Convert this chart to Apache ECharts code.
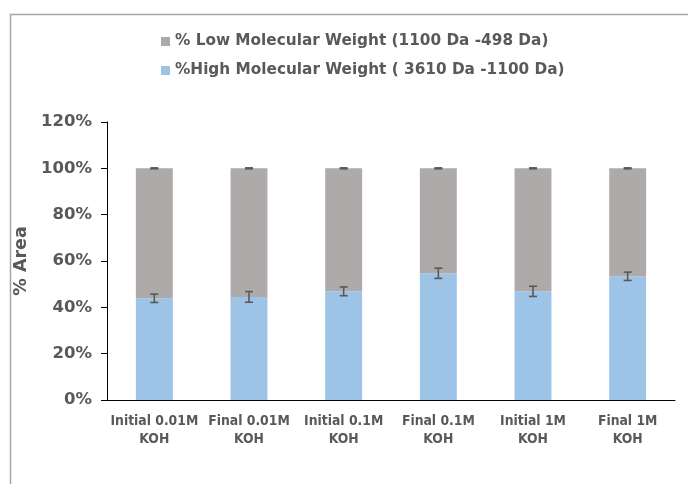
<!DOCTYPE html>
<html>
<head>
<meta charset="utf-8">
<script src="https://cdn.jsdelivr.net/npm/echarts@6/dist/echarts.min.js"></script>
<style>
  html, body { margin: 0; padding: 0; background: #fff; }
  #chart { width: 688px; height: 484px; }
</style>
</head>
<body>
<div id="chart"></div>
<script>
// Sample conditions along the x axis
const categories = ['Initial 0.01M\nKOH', 'Final 0.01M\nKOH', 'Initial 0.1M\nKOH', 'Final 0.1M\nKOH', 'Initial 1M\nKOH', 'Final 1M\nKOH'];

// Percentage of area for each molecular weight fraction
const highMW = [43.9, 44.5, 46.9, 54.7, 46.9, 53.4];
const lowMW = [56.1, 55.5, 53.1, 45.3, 53.1, 46.6];

// Standard deviations shown as error bars
const highErr = [1.8, 2.3, 1.9, 2.2, 2.2, 1.8];
const totalErr = [0.2, 0.2, 0.2, 0.2, 0.2, 0.2];

// Y axis ticks
const yTicks = [0, 20, 40, 60, 80, 100, 120];

const nameLow = '% Low Molecular Weight (1100 Da -498 Da)';
const nameHigh = '%High Molecular Weight ( 3610 Da -1100 Da)';

const totals = highMW.map((v, i) => v + lowMW[i]);
const errHighData = highMW.map((v, i) => [i, v, highErr[i]]);
const errTopData = totals.map((v, i) => [i, v, totalErr[i]]);

function errorBar(params, api) {
  const x = api.value(0), y = api.value(1), e = api.value(2);
  const hi = api.coord([x, y + e]);
  const lo = api.coord([x, y - e]);
  const hw = 4;
  const style = { stroke: '#595959', lineWidth: 1.6 };
  return {
    type: 'group',
    children: [
      { type: 'line', shape: { x1: hi[0], y1: hi[1], x2: lo[0], y2: lo[1] }, style },
      { type: 'line', shape: { x1: hi[0] - hw, y1: hi[1], x2: hi[0] + hw, y2: hi[1] }, style },
      { type: 'line', shape: { x1: lo[0] - hw, y1: lo[1], x2: lo[0] + hw, y2: lo[1] }, style }
    ]
  };
}

const font = 'Verdana, "DejaVu Sans", sans-serif';
const chart = echarts.init(document.getElementById('chart'), null, { renderer: 'canvas' });
chart.setOption({
  animation: false,
  graphic: [{
    type: 'polyline',
    shape: { points: [[10.5, 484], [10.5, 14.5], [688, 14.5]] },
    style: { stroke: '#a6a6a6', lineWidth: 1.5, fill: null }
  }],
  legend: {
    orient: 'vertical',
    left: 156,
    top: 29,
    itemWidth: 9,
    itemHeight: 9,
    itemGap: 14,
    icon: 'rect',
    data: [nameLow, nameHigh],
    textStyle: { fontFamily: font, fontWeight: 'bold', fontSize: 15.3, color: '#595959' }
  },
  grid: { left: 107, right: 13, top: 122, bottom: 84, containLabel: false },
  xAxis: {
    type: 'category',
    data: categories,
    axisLine: { lineStyle: { color: '#000', width: 1 } },
    axisTick: { show: false },
    axisLabel: {
      interval: 0,
      margin: 12,
      lineHeight: 18,
      fontFamily: '"DejaVu Sans Condensed", Tahoma, sans-serif',
      fontWeight: 'bold',
      fontSize: 13.8,
      color: '#595959'
    }
  },
  yAxis: {
    type: 'value',
    min: 0,
    max: 120,
    interval: 20,
    name: '% Area',
    nameLocation: 'middle',
    nameGap: 73,
    nameTextStyle: { fontFamily: font, fontWeight: 'bold', fontSize: 17.5, color: '#595959' },
    axisLine: { show: true, lineStyle: { color: '#000', width: 1 } },
    axisTick: { show: true, length: 6, lineStyle: { color: '#000' } },
    splitLine: { show: false },
    axisLabel: {
      margin: 15,
      fontFamily: font,
      fontWeight: 'bold',
      fontSize: 16.5,
      color: '#595959',
      formatter: v => yTicks.includes(v) ? v + '%' : ''
    }
  },
  series: [
    {
      name: nameHigh,
      type: 'bar',
      stack: 'area',
      barWidth: '39%',
      data: highMW,
      itemStyle: { color: '#9dc3e6' }
    },
    {
      name: nameLow,
      type: 'bar',
      stack: 'area',
      data: lowMW,
      itemStyle: { color: '#aeaaaa' }
    },
    {
      type: 'custom',
      renderItem: errorBar,
      data: errHighData,
      z: 10,
      silent: true
    },
    {
      type: 'custom',
      renderItem: errorBar,
      data: errTopData,
      z: 10,
      silent: true
    }
  ]
});
</script>
</body>
</html>
